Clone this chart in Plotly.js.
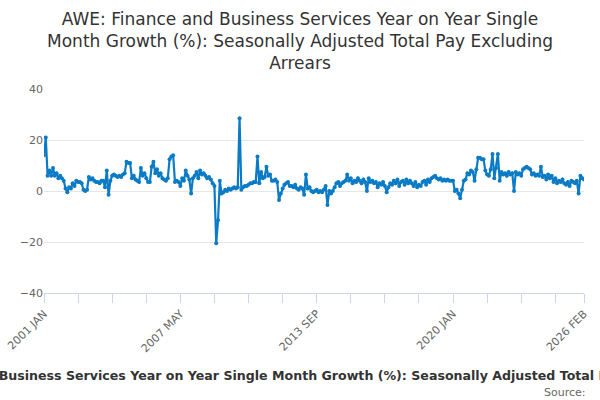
<!DOCTYPE html>
<html>
<head>
<meta charset="utf-8">
<script src="https://cdn.plot.ly/plotly-3.0.1.min.js"></script>
<style>
body { margin: 0; padding: 0; }
#chart { width: 600px; height: 400px; }
</style>
</head>
<body>
<div id="chart"></div>
<script>
// monthly series, 2001 JAN .. 2026 FEB
var startYear = 2001;
var monthNames = ["JAN","FEB","MAR","APR","MAY","JUN","JUL","AUG","SEP","OCT","NOV","DEC"];

var y2001 = [14, 21, 6, 8, 6, 9, 6, 7, 5, 6, 5, 4];
var y2002 = [1, -0.5, 1.5, 1, 3, 2, 4, 3.5, 3.5, 3, 0.5, 0];
var y2003 = [0.5, 5.5, 4.5, 5, 4, 3.5, 3.5, 3, 4, 4, 1.5, 8];
var y2004 = [-1.5, 4, 6, 6.5, 6, 5.5, 6, 5.5, 6.5, 7, 11.5, 11];
var y2005 = [11, 5, 6, 4.5, 4, 3.5, 9, 6, 7, 5, 3.5, 3.5];
var y2006 = [9.5, 11.5, 7, 8.5, 6, 7, 5, 4.5, 4, 5, 12.5, 13.5];
var y2007 = [14, 3.5, 4, 3.5, 2, 5, 4, 8, 6, 4.5, -1, 5];
var y2008 = [6, 7.5, 5, 8, 6.5, 7, 6, 5, 5.5, 4.5, 3, 2];
var y2009 = [-20.5, -11.5, 4, -1, -0.5, 0.5, 0, 1, 0.5, 1, 1.5, 1];
var y2010 = [1.5, 28.5, 0.5, 1.5, 2, 2, 2.5, 3, 3, 3.5, 3.5, 13.5];
var y2011 = [3, 7.5, 5, 5.5, 9.5, 6, 6.5, 4, 4, 4.5, 3.5, -3.5];
var y2012 = [-1, 1, 2.5, 3, 3.5, 2, 2, 1.5, 2.5, 1, 0.5, 1.5];
var y2013 = [1, -1.5, 6.5, 1, 1.5, 0, -0.5, 0, 0.5, -0.5, 0, -0.5];
var y2014 = [0.5, 2, -5.5, 0, -1, 0, 1.5, 3, 3.5, 2, 3, 3.5];
var y2015 = [4, 6.5, 4, 5, 3, 4, 3.5, 5, 4, 3, 4.5, 3.5];
var y2016 = [0, 5, 3.5, 4, 3, 3.5, 1.5, 3, 2.5, 3.5, 2, -0.5];
var y2017 = [1.5, 3, 2.5, 4, 3, 4.5, 2, 3.5, 4, 2.5, 4.5, 3];
var y2018 = [4, 3, 2, 3.5, 1.5, 2.5, 2, 3.5, 4, 2.5, 4.5, 3.5];
var y2019 = [5, 5.5, 6, 5, 4.5, 5, 4, 4.5, 4, 4.5, 4, 4];
var y2020 = [4, 0, 0.5, -1, -2.8, 0.5, 4, 4.5, 7, 6.5, 8, 7.5];
var y2021 = [4, 8.5, 13, 13, 12.5, 12.5, 8, 6.5, 6, 8.5, 14.5, 5];
var y2022 = [9, 14.5, 4, 7.5, 6.5, 7, 6, 7.5, 6.5, 7, 0, 7.5];
var y2023 = [6.5, 7, 6, 8.5, 9, 9.5, 9, 8.5, 6.5, 7, 6, 6.5];
var y2024 = [6, 9.5, 5.5, 6, 4.5, 6.5, 5, 6, 3.5, 5, 3, 4];
var y2025 = [3.5, 4.5, 3, 2.5, 3.5, 2, 4, 3.5, 3, 4, -1, 6];
var y2026 = [5, 4.5];

var growth = [].concat(y2001, y2002, y2003, y2004, y2005, y2006, y2007, y2008,
	y2009, y2010, y2011, y2012, y2013, y2014, y2015, y2016, y2017, y2018,
	y2019, y2020, y2021, y2022, y2023, y2024, y2025, y2026);

var months = [];
for (var i = 0; i < growth.length; i++)
{
	months.push((startYear + Math.floor(i / 12)) + " " + monthNames[i % 12]);
}

// a tick every 19 months, labels on every 4th, plus the last month
var tickVals = [];
var tickText = [];
for (var k = 0; k * 19 < growth.length - 1; k++)
{
	tickVals.push(months[k * 19]);
	tickText.push(k % 4 == 0 ? months[k * 19] : "");
}
tickVals.push(months[months.length - 1]);
tickText.push(months[months.length - 1]);

var titleText = "AWE: Finance and Business Services Year on Year Single Month Growth (%): Seasonally Adjusted Total Pay Excluding Arrears";

var trace = {
	x: months,
	y: growth,
	type: 'scatter',
	mode: 'lines+markers',
	line: {color: '#0a7bc4', width: 2.2},
	marker: {color: '#0a7bc4', size: 4},
	hoverinfo: 'x+y'
};

var layout = {
	width: 600,
	height: 400,
	font: {family: 'DejaVu Sans, sans-serif', color: '#333333'},
	paper_bgcolor: '#ffffff',
	plot_bgcolor: '#ffffff',
	showlegend: false,
	margin: {l: 44, r: 16, t: 89, b: 107},
	title: {
		text: "AWE: Finance and Business Services Year on Year Single<br>Month Growth (%): Seasonally Adjusted Total Pay Excluding<br>Arrears",
		font: {size: 17, color: '#333333'},
		x: 0.5,
		xanchor: 'center',
		yref: 'container',
		y: 0.937,
		yanchor: 'middle'
	},
	xaxis: {
		type: 'category',
		tickmode: 'array',
		tickvals: tickVals,
		ticktext: tickText,
		tickangle: -45,
		ticks: 'outside',
		ticklen: 9,
		tickcolor: '#ccd6eb',
		showline: true,
		linecolor: '#ccd6eb',
		linewidth: 1,
		showgrid: false,
		zeroline: false,
		tickfont: {size: 11, color: '#666666'},
		range: [0, growth.length - 1]
	},
	yaxis: {
		range: [-40, 40],
		dtick: 20,
		tick0: 0,
		showgrid: true,
		gridcolor: '#e6e6e6',
		zeroline: false,
		showline: false,
		ticks: '',
		tickfont: {size: 11, color: '#666666'}
	},
	annotations: [
		{
			text: titleText,
			xref: 'paper', yref: 'paper',
			x: 0.4926, y: -0.405,
			xanchor: 'center', yanchor: 'middle',
			showarrow: false,
			font: {size: 12.6, color: '#333333', weight: 'bold'}
		},
		{
			text: "Source:",
			xref: 'paper', yref: 'paper',
			x: 1.0074, y: -0.49,
			xanchor: 'right', yanchor: 'middle',
			showarrow: false,
			font: {size: 11, color: '#666666'}
		}
	]
};

Plotly.newPlot('chart', [trace], layout, {displayModeBar: false, staticPlot: true});
</script>
</body>
</html>
